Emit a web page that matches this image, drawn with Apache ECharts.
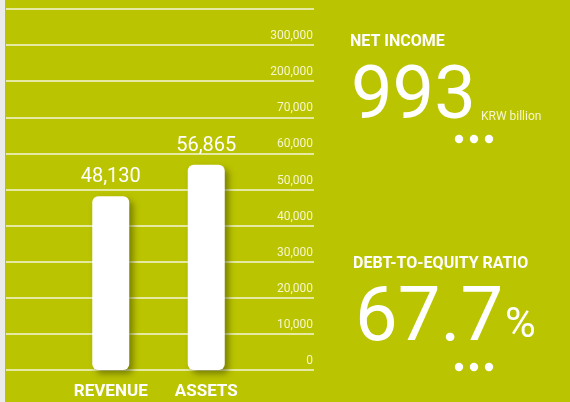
<!DOCTYPE html>
<html>
<head>
<meta charset="utf-8">
<script src="https://cdn.jsdelivr.net/npm/echarts@6/dist/echarts.min.js"></script>
<style>
html,body{margin:0;padding:0;background:#bbc400;}
#c{width:570px;height:402px;}
</style>
</head>
<body>
<div id="c"></div>
<script>
const categories = ['REVENUE', 'ASSETS'];
const values = [48130, 56865];
const tickLabels = ['0', '10,000', '20,000', '30,000', '40,000', '50,000', '60,000', '70,000', '200,000', '300,000', ''];
const netIncome = '993';
const netIncomeUnit = 'KRW billion';
const debtRatio = '67.7';

const chart = echarts.init(document.getElementById('c'));
const font = 'Roboto, "Noto Sans", sans-serif';
const dots = (cy) => [459, 474, 489].map(x => ({
  type: 'circle', shape: {cx: x, cy: cy, r: 4.2}, style: {fill: '#ffffff'}
}));
chart.setOption({
  backgroundColor: '#bbc400',
  animation: false,
  grid: [
    {left: 6, right: 256, top: 9, bottom: 32},
    {left: 63, width: 191, top: 9, bottom: 32}
  ],
  xAxis: [
    {gridIndex: 0, type: 'value', min: 0, max: 1, show: false},
    {gridIndex: 1, type: 'category', data: categories,
     axisLine: {show: false}, axisTick: {show: false},
     axisLabel: {interval: 0, hideOverlap: false, color: '#ffffff', fontFamily: font, fontWeight: 'bold', fontSize: 17, margin: 13}}
  ],
  yAxis: [
    {gridIndex: 0, type: 'value', min: 0, max: 100000, interval: 10000, position: 'right',
     axisLine: {show: false}, axisTick: {show: false},
     splitLine: {lineStyle: {color: 'rgba(255,255,255,0.85)', width: 1.5}},
     axisLabel: {inside: true, margin: 1, color: 'rgba(255,255,240,0.85)', fontFamily: font, fontSize: 12,
       verticalAlign: 'bottom', padding: [0, 0, 3, 0],
       formatter: (v) => tickLabels[Math.round(v / 10000)] || ''}},
    {gridIndex: 1, type: 'value', min: 0, max: 100000, show: false}
  ],
  series: [{
    type: 'bar', xAxisIndex: 1, yAxisIndex: 1, data: values, barWidth: 37,
    itemStyle: {color: '#ffffff', borderRadius: 6, shadowColor: 'rgba(70,75,0,0.55)', shadowBlur: 6, shadowOffsetX: 4, shadowOffsetY: 4},
    label: {show: true, position: 'top', distance: 9, color: '#ffffff', fontFamily: font, fontSize: 20,
      formatter: (p) => p.value.toLocaleString('en-US')}
  }],
  graphic: [
    {type: 'rect', shape: {x: 0, y: 0, width: 5, height: 402}, style: {fill: '#ebebeb'}},
    {type: 'text', left: 350, top: 34, style: {text: 'NET INCOME', fill: '#fff', font: 'bold 16px ' + font}},
    {type: 'text', left: 351, top: 62, style: {text: netIncome, fill: '#fff', font: '74px ' + font}},
    {type: 'text', left: 481, top: 111, style: {text: netIncomeUnit, fill: 'rgba(255,255,240,0.85)', font: '12px ' + font}},
    ...dots(139),
    {type: 'text', left: 353, top: 256, style: {text: 'DEBT-TO-EQUITY RATIO', fill: '#fff', font: 'bold 16px ' + font}},
    {type: 'text', left: 355, top: 283, style: {text: debtRatio, fill: '#fff', font: '76px ' + font}},
    {type: 'text', left: 505, top: 305, style: {text: '%', fill: '#fff', font: '42px ' + font}},
    ...dots(367)
  ]
});
</script>
</body>
</html>
